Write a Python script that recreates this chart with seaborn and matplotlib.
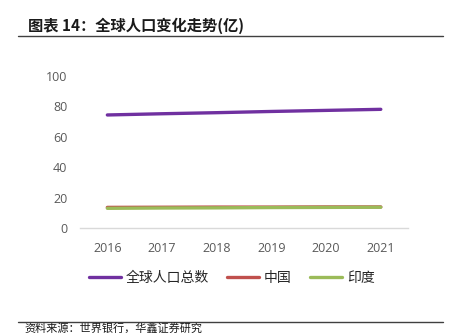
import matplotlib
matplotlib.use("Agg")
import matplotlib.pyplot as plt
import seaborn as sns
import pandas as pd
from matplotlib.lines import Line2D

years = ["2016", "2017", "2018", "2019", "2020", "2021"]
world = [74.4, 75.2, 75.9, 76.7, 77.4, 78.1]
china = [13.8, 13.9, 14.0, 14.0, 14.1, 14.1]
india = [13.2, 13.4, 13.5, 13.7, 13.8, 13.9]
series_names = ["全球人口总数", "中国", "印度"]
colors = ["#7030A0", "#C0504D", "#9BBB59"]
yticks = [0, 20, 40, 60, 80, 100]

sns.set_theme(style="white")
plt.rcParams["font.family"] = ["Noto Sans CJK SC", "DejaVu Sans"]

df = pd.DataFrame({
    "year": years * 3,
    "value": world + china + india,
    "series": [series_names[0]] * 6 + [series_names[1]] * 6 + [series_names[2]] * 6,
})

fig = plt.figure(figsize=(4.52, 3.33), dpi=100)
ax = fig.add_axes([0.177, 0.314, 0.726, 0.458])

sns.lineplot(data=df, x="year", y="value", hue="series", hue_order=series_names,
             palette=colors, linewidth=2.4, sort=False, legend=False, ax=ax)

ax.set_xlim(-0.5, len(years) - 0.5)
ax.set_ylim(0, 100)
ax.set_yticks(yticks)
ax.set_yticklabels([str(v) for v in yticks])
ax.set_xlabel("")
ax.set_ylabel("")
for s in ["top", "right", "left"]:
    ax.spines[s].set_visible(False)
ax.spines["bottom"].set_color("#D9D9D9")
ax.spines["bottom"].set_linewidth(1.0)
ax.tick_params(axis="both", length=0, labelsize=9, labelcolor="#595959")
ax.tick_params(axis="y", pad=9)
ax.tick_params(axis="x", pad=9.5)
for lab in ax.get_xticklabels() + ax.get_yticklabels():
    lab.set_family(["Open Sans", "DejaVu Sans"])

handles = [Line2D([0], [0], color=c, linewidth=2.4) for c in colors]
fig.legend(handles, series_names, loc="center", bbox_to_anchor=(0.513, 0.165),
           ncol=3, frameon=False, prop={"size": 10}, handlelength=2.3,
           handletextpad=0.35, columnspacing=1.3, labelcolor="#262626")

# Title and rules
fig.text(0.062, 0.922, "图表 14：全球人口变化走势(亿)", fontsize=11,
         fontweight="bold", va="center", ha="left", color="#1a1a1a")
fig.add_artist(Line2D([0.04, 0.98], [1 - 35.7 / 333] * 2, color="#404040", linewidth=1.0))
fig.add_artist(Line2D([0.04, 0.98], [1 - 321.7 / 333] * 2, color="#404040", linewidth=1.0))
fig.text(0.055, 1 - 328 / 333, "资料来源：世界银行，华鑫证券研究", fontsize=8,
         va="center", ha="left", color="#1a1a1a")

fig.savefig("out.png", dpi=100)
